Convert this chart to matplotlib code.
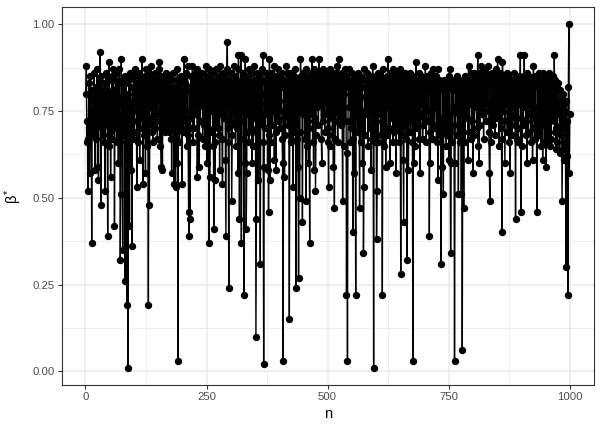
import numpy as np
import matplotlib
matplotlib.use("Agg")
import matplotlib.pyplot as plt

# beta* estimates in hundredths, n = 1..1000 (20 per row)
beta_hundredths = [
    80, 88, 66, 72, 52, 67, 83, 70, 57, 85, 68, 75, 37, 81, 74, 73, 69, 86, 77, 58,
    82, 67, 74, 87, 59, 79, 55, 84, 71, 92, 76, 48, 85, 70, 78, 68, 81, 66, 83, 52,
    79, 86, 71, 81, 72, 39, 84, 65, 89, 69, 80, 56, 74, 85, 67, 78, 87, 70, 81, 42,
    75, 84, 71, 86, 66, 74, 83, 60, 79, 87, 69, 32, 51, 90, 77, 73, 35, 84, 72, 68,
    85, 26, 66, 83, 71, 19, 80, 1, 70, 84, 42, 86, 73, 58, 78, 36, 82, 67, 75, 85,
    69, 81, 87, 77, 83, 53, 72, 85, 66, 80, 86, 61, 82, 70, 84, 73, 90, 76, 54, 83,
    68, 85, 74, 57, 87, 78, 65, 84, 71, 19, 86, 48, 73, 83, 76, 88, 69, 82, 66, 85,
    72, 80, 86, 70, 82, 75, 84, 67, 74, 81, 87, 89, 65, 83, 72, 59, 85, 77, 58, 82,
    70, 78, 84, 69, 80, 86, 70, 71, 83, 70, 72, 85, 69, 70, 82, 67, 84, 57, 81, 70,
    86, 70, 54, 82, 74, 53, 84, 71, 60, 87, 3, 70, 83, 66, 81, 70, 85, 76, 54, 80,
    69, 84, 72, 90, 75, 83, 70, 86, 65, 81, 88, 68, 46, 39, 82, 44, 70, 85, 73, 80,
    88, 66, 83, 70, 81, 86, 74, 79, 84, 87, 56, 82, 68, 85, 59, 80, 72, 84, 77, 81,
    86, 67, 82, 76, 71, 84, 65, 83, 88, 73, 60, 85, 70, 82, 37, 87, 56, 69, 84, 75,
    81, 86, 65, 78, 41, 84, 55, 66, 87, 71, 82, 74, 70, 85, 68, 83, 58, 88, 74, 81,
    84, 67, 54, 86, 76, 81, 73, 85, 61, 39, 83, 87, 95, 70, 66, 24, 84, 72, 82, 71,
    86, 49, 68, 83, 74, 88, 81, 72, 85, 65, 84, 70, 82, 87, 57, 91, 76, 44, 83, 67,
    91, 37, 84, 75, 86, 72, 22, 83, 60, 90, 69, 41, 57, 85, 74, 77, 87, 66, 81, 84,
    70, 86, 69, 60, 83, 65, 75, 88, 73, 77, 84, 10, 44, 81, 86, 76, 55, 85, 71, 83,
    31, 80, 74, 87, 72, 91, 66, 2, 59, 84, 70, 77, 86, 74, 83, 58, 85, 46, 68, 90,
    55, 83, 66, 86, 71, 76, 84, 75, 88, 61, 81, 85, 58, 69, 83, 73, 87, 72, 78, 84,
    70, 85, 82, 75, 86, 67, 60, 3, 73, 84, 56, 83, 68, 81, 88, 74, 82, 71, 86, 77,
    15, 81, 84, 66, 86, 73, 83, 72, 53, 85, 69, 76, 87, 82, 24, 67, 84, 59, 81, 27,
    83, 50, 69, 90, 85, 75, 82, 43, 74, 86, 77, 81, 67, 84, 49, 87, 65, 83, 72, 60,
    85, 70, 37, 82, 86, 74, 83, 90, 66, 81, 58, 87, 73, 84, 52, 68, 85, 82, 76, 86,
    71, 90, 83, 77, 81, 85, 67, 60, 84, 72, 87, 74, 82, 69, 86, 78, 83, 74, 85, 66,
    70, 53, 84, 65, 87, 76, 82, 73, 85, 68, 83, 59, 86, 47, 81, 67, 84, 75, 88, 72,
    66, 83, 90, 74, 82, 85, 71, 77, 86, 73, 49, 84, 65, 80, 87, 72, 82, 85, 22, 63,
    3, 72, 84, 76, 87, 82, 66, 83, 70, 86, 81, 40, 67, 85, 57, 82, 74, 22, 84, 73,
    83, 69, 86, 75, 81, 47, 85, 66, 82, 71, 84, 60, 75, 34, 53, 87, 68, 79, 84, 74,
    82, 86, 65, 80, 84, 76, 83, 70, 85, 58, 81, 67, 88, 72, 1, 84, 66, 83, 74, 85,
    38, 52, 81, 86, 66, 83, 75, 74, 85, 68, 84, 72, 22, 82, 87, 65, 81, 70, 84, 59,
    83, 68, 85, 76, 90, 81, 70, 86, 60, 82, 84, 74, 73, 87, 66, 83, 69, 85, 81, 77,
    57, 84, 70, 75, 86, 82, 66, 83, 87, 73, 28, 81, 85, 68, 84, 61, 43, 82, 71, 86,
    67, 83, 76, 32, 85, 72, 58, 84, 81, 86, 69, 74, 83, 82, 66, 3, 85, 73, 60, 84,
    65, 82, 89, 70, 76, 84, 81, 86, 67, 83, 57, 74, 85, 77, 82, 67, 71, 84, 73, 81,
    83, 88, 66, 81, 85, 75, 82, 72, 84, 39, 69, 60, 83, 86, 67, 81, 87, 67, 84, 70,
    82, 76, 85, 71, 66, 83, 87, 55, 81, 68, 84, 73, 82, 31, 73, 59, 83, 69, 51, 84,
    70, 83, 77, 81, 65, 84, 68, 74, 82, 61, 85, 87, 69, 34, 60, 83, 66, 81, 75, 84,
    71, 3, 60, 82, 76, 83, 85, 68, 81, 51, 74, 84, 72, 66, 83, 51, 82, 6, 69, 84,
    47, 81, 85, 66, 83, 75, 82, 73, 84, 61, 88, 69, 83, 77, 81, 86, 67, 84, 72, 57,
    82, 86, 68, 83, 76, 85, 81, 70, 84, 91, 65, 83, 60, 86, 71, 82, 88, 74, 84, 74,
    85, 67, 83, 87, 75, 82, 86, 72, 84, 77, 83, 88, 69, 57, 49, 85, 66, 84, 82, 86,
    71, 84, 76, 86, 82, 68, 87, 83, 73, 85, 90, 74, 84, 65, 82, 86, 70, 83, 67, 40,
    89, 82, 75, 85, 72, 60, 84, 77, 83, 86, 69, 81, 85, 66, 82, 74, 57, 84, 73, 83,
    68, 84, 76, 82, 86, 71, 74, 44, 83, 67, 85, 81, 70, 66, 84, 77, 82, 91, 46, 73,
    83, 65, 85, 71, 81, 91, 76, 84, 72, 68, 86, 60, 83, 69, 74, 85, 77, 82, 66, 84,
    75, 81, 61, 70, 88, 73, 83, 67, 85, 70, 74, 46, 84, 76, 82, 68, 86, 72, 81, 65,
    84, 76, 82, 61, 86, 74, 71, 83, 66, 85, 59, 81, 69, 84, 73, 67, 82, 86, 65, 80,
    67, 83, 75, 81, 85, 73, 72, 91, 69, 84, 64, 70, 82, 66, 83, 76, 74, 77, 63, 81,
    68, 71, 79, 49, 64, 80, 61, 77, 70, 75, 66, 30, 78, 62, 72, 22, 82, 100, 57, 74,
]
x_ticks = [0, 250, 500, 750, 1000]
y_ticks = [0.00, 0.25, 0.50, 0.75, 1.00]
y_tick_labels = ["0.00", "0.25", "0.50", "0.75", "1.00"]

beta = np.array(beta_hundredths) / 100.0
n = np.arange(1, len(beta) + 1)

plt.rcParams["font.family"] = ["Liberation Sans", "DejaVu Sans"]
plt.rcParams["mathtext.fontset"] = "custom"
plt.rcParams["mathtext.rm"] = "Liberation Sans"
plt.rcParams["mathtext.it"] = "Liberation Sans"

fig = plt.figure(figsize=(6.02, 4.28), dpi=100)
ax = fig.add_axes([0.1025, 0.1005, 0.8842, 0.8831])

# ggplot theme_bw look
grid_col = "#EBEBEB"
for v in [125, 375, 625, 875]:
    ax.axvline(v, color=grid_col, lw=0.55, zorder=0)
for v in [0.125, 0.375, 0.625, 0.875]:
    ax.axhline(v, color=grid_col, lw=0.55, zorder=0)
for v in x_ticks:
    ax.axvline(v, color=grid_col, lw=1.1, zorder=0)
for v in y_ticks:
    ax.axhline(v, color=grid_col, lw=1.1, zorder=0)

ax.plot(n, beta, color="black", lw=1.0, zorder=2)
ax.plot(n, beta, "o", color="black", ms=4.3, zorder=3)

span = n.max() - n.min()
ax.set_xlim(n.min() - 0.05 * span, n.max() + 0.05 * span)
yspan = beta.max() - beta.min()
ax.set_ylim(beta.min() - 0.05 * yspan, beta.max() + 0.05 * yspan)

ax.set_xticks(x_ticks)
ax.set_yticks(y_ticks)
ax.set_yticklabels(y_tick_labels)
ax.tick_params(colors="#333333", labelcolor="#4D4D4D", labelsize=8.2,
               length=3, width=0.8, pad=2)
for s in ax.spines.values():
    s.set_color("#333333")
    s.set_linewidth(0.8)

ax.set_xlabel("n", fontsize=10.5, labelpad=4)
ax.set_ylabel(r"$\beta^{*}$", fontsize=10.5, labelpad=6)

fig.savefig("out.png", dpi=100)
